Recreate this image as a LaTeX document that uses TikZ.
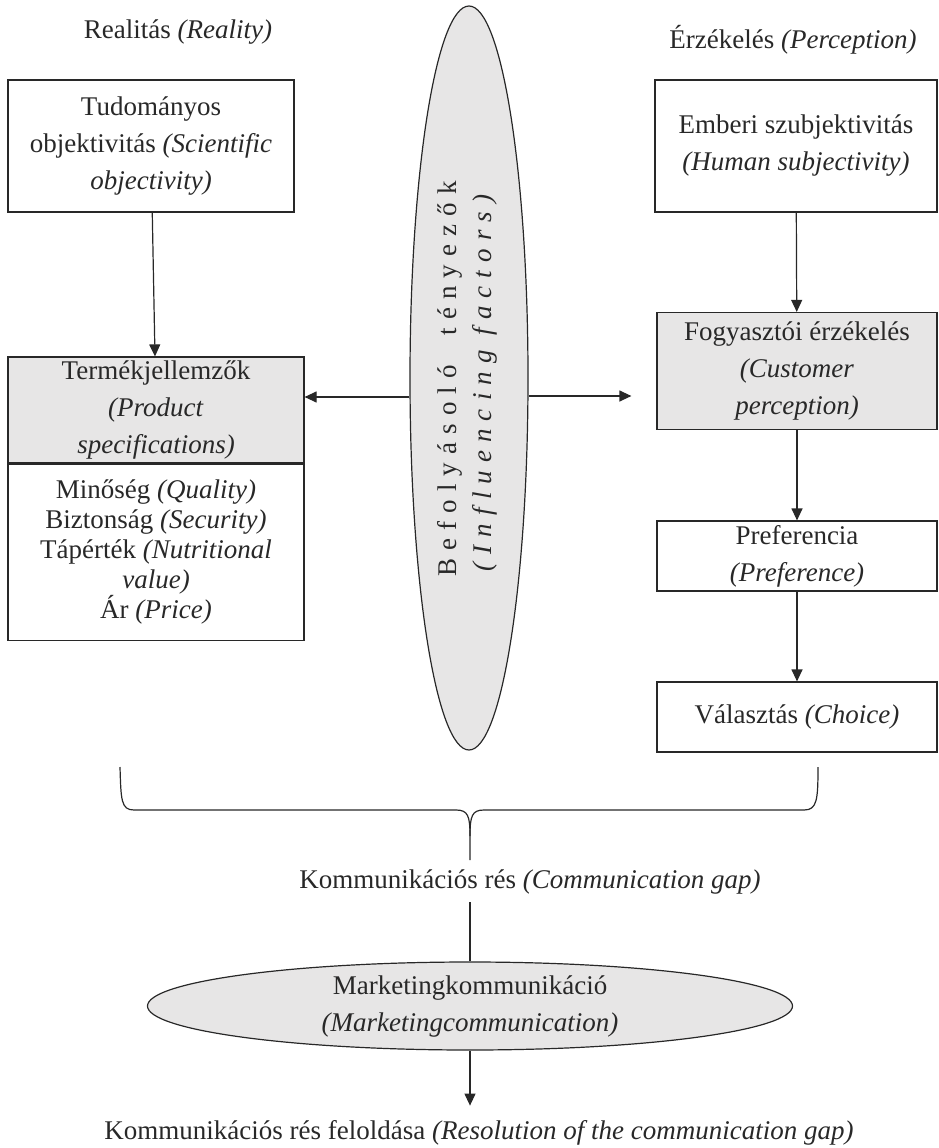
\documentclass[tikz,border=0pt]{standalone}
\usepackage{fontspec}
\setmainfont{Liberation Serif}
\usepackage{xcolor}
\usetikzlibrary{shapes.geometric,arrows.meta}
\definecolor{boxgrey}{RGB}{231,230,230}
\definecolor{ink}{RGB}{40,40,40}

\begin{document}
\begin{tikzpicture}[x=1pt,y=-1pt,
    every node/.style={font=\fontsize{27}{37}\selectfont, text=ink, inner sep=0pt},
    box/.style={draw=ink, line width=1.2pt, align=center, minimum width=280pt},
    greybox/.style={box, fill=boxgrey},
    oval/.style={ellipse, draw=ink, line width=1.2pt, fill=boxgrey},
    arr/.style={draw=ink, line width=1.2pt, -{Triangle[length=12pt,width=11pt]}}]
  \useasboundingbox (0,0) rectangle (939,1148);

  % Headings
  \node (real) at (178,32) {Realitás \textit{(Reality)}};
  \node (perc) at (793,40) {Érzékelés \textit{(Perception)}};

  % Influencing factors
  \node[oval, minimum width=118pt, minimum height=744pt] (infl) at (469,378) {};
  \node[rotate=90, align=center, font=\fontsize{27}{35}\selectfont\addfontfeature{LetterSpace=30}] (infltxt) at (467,379)
    {Befolyásoló\ \ tényezők\\\textit{\addfontfeature{LetterSpace=30}(Influencing factors)}};

  % Reality side
  \node[box, minimum width=286pt, minimum height=132pt] (sci) at (151,146)
    {Tudományos\\objektivitás \textit{(Scientific}\\\textit{objectivity)}};
  \node[greybox, minimum width=296pt, minimum height=106pt] (spec) at (156,410)
    {Termékjellemzők\\\textit{(Product}\\\textit{specifications)}};
  \node[box, minimum width=296pt, minimum height=176pt, font=\fontsize{27}{30}\selectfont, anchor=north] (attr) at (spec.south)
    {Minőség \textit{(Quality)}\\Biztonság \textit{(Security)}\\Tápérték \textit{(Nutritional}\\\textit{value)}\\Ár \textit{(Price)}};

  % Perception side
  \node[box, minimum width=282pt, minimum height=132pt] (human) at (796,146)
    {Emberi szubjektivitás\\\textit{(Human subjectivity)}};
  \node[greybox, minimum height=117pt] (cust) at (797,371)
    {Fogyasztói érzékelés\\\textit{(Customer}\\\textit{perception)}};
  \node[box, minimum height=70pt] (pref) at (797,556)
    {Preferencia\\\textit{(Preference)}};
  \node[box, minimum height=70pt] (choice) at (797,717)
    {Választás \textit{(Choice)}};

  % Arrows
  \draw[arr] (sci) -- (spec);
  \draw[arr] (human) -- (cust);
  \draw[arr] (cust) -- (pref);
  \draw[arr] (pref) -- (choice);
  \draw[arr] ([yshift=-19pt]infl.west) -- ([yshift=-19pt]infl.west -| spec.east);
  \draw[arr, shorten >=25pt] ([yshift=-18pt]infl.east) -- ([yshift=-18pt]infl.east -| cust.west);

  % Brace
  \coordinate (bl) at (120,767);
  \coordinate (br) at (818,767);
  \coordinate (tip) at (470,860);
  \draw[ink, line width=1.2pt] (bl) .. controls (121,800) and (121,810) .. (134,810) -- (456,810)
    .. controls (468,810) and (470,816) .. (470,836) -- (tip);
  \draw[ink, line width=1.2pt] (470,836) .. controls (470,816) and (472,810) .. (484,810) -- (804,810)
    .. controls (817,810) and (818,800) .. (br);

  % Gap and marketing
  \node (gap) at (530,882) {Kommunikációs rés \textit{(Communication gap)}};
  \node[oval, minimum width=645pt, minimum height=88pt, align=center] (mc) at (470,1006)
    {Marketingkommunikáció\\\textit{(Marketingcommunication)}};
  \node (res) at (479,1133) {Kommunikációs rés feloldása \textit{(Resolution of the communication gap)}};
  \draw[ink, line width=1.2pt] (mc.north) -- ++(0,-59);
  \draw[arr] (mc.south) -- ++(0,55);
\end{tikzpicture}
\end{document}
